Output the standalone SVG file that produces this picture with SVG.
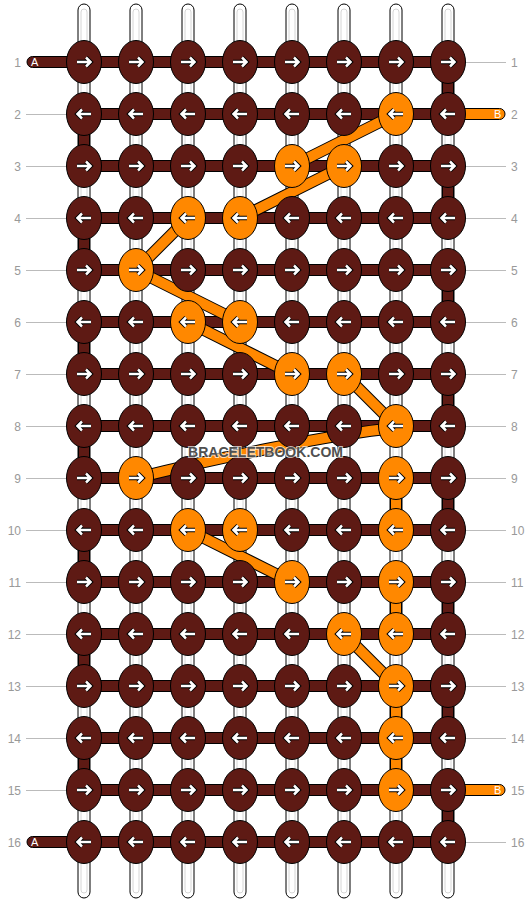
<svg xmlns="http://www.w3.org/2000/svg" xmlns:xlink="http://www.w3.org/1999/xlink" width="532" height="904" viewBox="0 0 532 904">
<style>
.st{fill:#fff;stroke:#000;stroke-width:1}
.sti{fill:none;stroke:#d6d6d6;stroke-width:1}
.bar{fill:#5e1a14;stroke:#000;stroke-width:1}
.obar{fill:#ff8800;stroke:#000;stroke-width:1}
.b{fill:#5e1a14;stroke:#000;stroke-width:1}
.o{fill:#ff8800;stroke:#000;stroke-width:1}
.dg0{fill:none;stroke:#000;stroke-width:12}
.dg1{fill:none;stroke:#ff8800;stroke-width:10}
.ao{fill:none;stroke:#000;stroke-width:4.5}
.ai{fill:none;stroke:#fff;stroke-width:2.5}
.num{font-family:"Liberation Sans",Arial,sans-serif;font-size:12px;fill:#999}
.end{font-family:"Liberation Sans",Arial,sans-serif;font-size:11px;fill:#fff}
.gl{stroke:#bbb;stroke-width:1}
.wm{font-family:"Liberation Sans",Arial,sans-serif;font-size:15px;font-weight:bold;fill:#505050;stroke:#fff;stroke-width:2;stroke-opacity:0.7;paint-order:stroke}
</style>
<defs>
<g id="R"><path class="ao" d="M-7,0H6.5M2,-4.5L6.5,0L2,4.5"/><path class="ai" d="M-7,0H6.5M2,-4.5L6.5,0L2,4.5"/></g>
<g id="L"><path class="ao" d="M7,0H-6.5M-2,-4.5L-6.5,0L-2,4.5"/><path class="ai" d="M7,0H-6.5M-2,-4.5L-6.5,0L-2,4.5"/></g>
</defs>
<rect width="532" height="904" fill="#fff"/>
<g id="strands">
<rect class="st" x="78" y="4" width="12" height="894" rx="6"/><rect class="sti" x="81" y="9" width="6" height="884" rx="3"/>
<rect class="st" x="130" y="4" width="12" height="894" rx="6"/><rect class="sti" x="133" y="9" width="6" height="884" rx="3"/>
<rect class="st" x="182" y="4" width="12" height="894" rx="6"/><rect class="sti" x="185" y="9" width="6" height="884" rx="3"/>
<rect class="st" x="234" y="4" width="12" height="894" rx="6"/><rect class="sti" x="237" y="9" width="6" height="884" rx="3"/>
<rect class="st" x="286" y="4" width="12" height="894" rx="6"/><rect class="sti" x="289" y="9" width="6" height="884" rx="3"/>
<rect class="st" x="338" y="4" width="12" height="894" rx="6"/><rect class="sti" x="341" y="9" width="6" height="884" rx="3"/>
<rect class="st" x="390" y="4" width="12" height="894" rx="6"/><rect class="sti" x="393" y="9" width="6" height="884" rx="3"/>
<rect class="st" x="442" y="4" width="12" height="894" rx="6"/><rect class="sti" x="445" y="9" width="6" height="884" rx="3"/>
</g>
<g id="labels">
<g class="num" text-anchor="end">
<text x="21" y="66.5">1</text><text x="21" y="118.5">2</text><text x="21" y="170.5">3</text><text x="21" y="222.5">4</text>
<text x="21" y="274.5">5</text><text x="21" y="326.5">6</text><text x="21" y="378.5">7</text><text x="21" y="430.5">8</text>
<text x="21" y="482.5">9</text><text x="21" y="534.5">10</text><text x="21" y="586.5">11</text><text x="21" y="638.5">12</text>
<text x="21" y="690.5">13</text><text x="21" y="742.5">14</text><text x="21" y="794.5">15</text><text x="21" y="846.5">16</text>
</g>
<g class="num">
<text x="511" y="66.5">1</text><text x="511" y="118.5">2</text><text x="511" y="170.5">3</text><text x="511" y="222.5">4</text>
<text x="511" y="274.5">5</text><text x="511" y="326.5">6</text><text x="511" y="378.5">7</text><text x="511" y="430.5">8</text>
<text x="511" y="482.5">9</text><text x="511" y="534.5">10</text><text x="511" y="586.5">11</text><text x="511" y="638.5">12</text>
<text x="511" y="690.5">13</text><text x="511" y="742.5">14</text><text x="511" y="794.5">15</text><text x="511" y="846.5">16</text>
</g>
<g class="gl">
<line x1="26" y1="114.5" x2="66" y2="114.5"/><line x1="26" y1="166.5" x2="66" y2="166.5"/><line x1="26" y1="218.5" x2="66" y2="218.5"/>
<line x1="26" y1="270.5" x2="66" y2="270.5"/><line x1="26" y1="322.5" x2="66" y2="322.5"/><line x1="26" y1="374.5" x2="66" y2="374.5"/>
<line x1="26" y1="426.5" x2="66" y2="426.5"/><line x1="26" y1="478.5" x2="66" y2="478.5"/><line x1="26" y1="530.5" x2="66" y2="530.5"/>
<line x1="26" y1="582.5" x2="66" y2="582.5"/><line x1="26" y1="634.5" x2="66" y2="634.5"/><line x1="26" y1="686.5" x2="66" y2="686.5"/>
<line x1="26" y1="738.5" x2="66" y2="738.5"/><line x1="26" y1="790.5" x2="66" y2="790.5"/>
<line x1="466" y1="62.5" x2="506" y2="62.5"/><line x1="466" y1="166.5" x2="506" y2="166.5"/><line x1="466" y1="218.5" x2="506" y2="218.5"/>
<line x1="466" y1="270.5" x2="506" y2="270.5"/><line x1="466" y1="322.5" x2="506" y2="322.5"/><line x1="466" y1="374.5" x2="506" y2="374.5"/>
<line x1="466" y1="426.5" x2="506" y2="426.5"/><line x1="466" y1="478.5" x2="506" y2="478.5"/><line x1="466" y1="530.5" x2="506" y2="530.5"/>
<line x1="466" y1="582.5" x2="506" y2="582.5"/><line x1="466" y1="634.5" x2="506" y2="634.5"/><line x1="466" y1="686.5" x2="506" y2="686.5"/>
<line x1="466" y1="738.5" x2="506" y2="738.5"/><line x1="466" y1="842.5" x2="506" y2="842.5"/>
</g>
</g>
<g id="connectors">
<g id="rows">
<rect class="bar" x="84" y="56.5" width="364" height="11"/><rect class="bar" x="84" y="108.5" width="364" height="11"/>
<rect class="bar" x="84" y="160.5" width="364" height="11"/><rect class="bar" x="84" y="212.5" width="364" height="11"/>
<rect class="bar" x="84" y="264.5" width="364" height="11"/><rect class="bar" x="84" y="316.5" width="364" height="11"/>
<rect class="bar" x="84" y="368.5" width="364" height="11"/><rect class="bar" x="84" y="420.5" width="364" height="11"/>
<rect class="bar" x="84" y="472.5" width="364" height="11"/><rect class="bar" x="84" y="524.5" width="364" height="11"/>
<rect class="bar" x="84" y="576.5" width="364" height="11"/><rect class="bar" x="84" y="628.5" width="364" height="11"/>
<rect class="bar" x="84" y="680.5" width="364" height="11"/><rect class="bar" x="84" y="732.5" width="364" height="11"/>
<rect class="bar" x="84" y="784.5" width="364" height="11"/><rect class="bar" x="84" y="836.5" width="364" height="11"/>
<path class="bar" d="M84,56.5H32.5A5.5,5.5 0 0 0 32.5,67.5H84Z"/>
<path class="bar" d="M84,836.5H32.5A5.5,5.5 0 0 0 32.5,847.5H84Z"/>
<path class="obar" d="M448,108.5H499.5A5.5,5.5 0 0 1 499.5,119.5H448Z"/>
<path class="obar" d="M448,784.5H499.5A5.5,5.5 0 0 1 499.5,795.5H448Z"/>
</g>
<g id="turns">
<rect class="bar" x="442.5" y="62" width="11" height="52"/><rect class="bar" x="442.5" y="166" width="11" height="52"/>
<rect class="bar" x="442.5" y="270" width="11" height="52"/><rect class="bar" x="442.5" y="374" width="11" height="52"/>
<rect class="bar" x="442.5" y="478" width="11" height="52"/><rect class="bar" x="442.5" y="582" width="11" height="52"/>
<rect class="bar" x="442.5" y="686" width="11" height="52"/><rect class="bar" x="442.5" y="790" width="11" height="52"/>
<rect class="bar" x="78.5" y="114" width="11" height="52"/><rect class="bar" x="78.5" y="218" width="11" height="52"/>
<rect class="bar" x="78.5" y="322" width="11" height="52"/><rect class="bar" x="78.5" y="426" width="11" height="52"/>
<rect class="bar" x="78.5" y="530" width="11" height="52"/><rect class="bar" x="78.5" y="634" width="11" height="52"/>
<rect class="bar" x="78.5" y="738" width="11" height="52"/>
<rect class="obar" x="390.5" y="478" width="11" height="52"/><rect class="obar" x="390.5" y="582" width="11" height="52"/>
<rect class="obar" x="390.5" y="686" width="11" height="52"/><rect class="obar" x="390.5" y="738" width="11" height="52"/>
</g>
<g id="diagonals">
<path class="dg0" d="M396,114L292,166"/><path class="dg1" d="M396,114L292,166"/>
<path class="dg0" d="M344,166L240,218"/><path class="dg1" d="M344,166L240,218"/>
<path class="dg0" d="M188,218L136,270"/><path class="dg1" d="M188,218L136,270"/>
<path class="dg0" d="M136,270L240,322"/><path class="dg1" d="M136,270L240,322"/>
<path class="dg0" d="M188,322L292,374"/><path class="dg1" d="M188,322L292,374"/>
<path class="dg0" d="M344,374L396,426"/><path class="dg1" d="M344,374L396,426"/>
<path class="dg0" d="M396,428C330,434 200,462 136,478"/><path class="dg1" d="M396,428C330,434 200,462 136,478"/>
<path class="dg0" d="M188,530L292,582"/><path class="dg1" d="M188,530L292,582"/>
<path class="dg0" d="M344,634L396,686"/><path class="dg1" d="M344,634L396,686"/>
</g>
</g>
<g id="ends">
<text class="end" x="31" y="66">A</text>
<text class="end" x="31" y="846">A</text>
<text class="end" x="494" y="118">B</text>
<text class="end" x="494" y="794">B</text>
</g>
<g id="knots">
<g id="k1-1"><ellipse class="b" cx="84" cy="62" rx="17.5" ry="21.5"/><use xlink:href="#R" x="84" y="62"/></g>
<g id="k1-2"><ellipse class="b" cx="136" cy="62" rx="17.5" ry="21.5"/><use xlink:href="#R" x="136" y="62"/></g>
<g id="k1-3"><ellipse class="b" cx="188" cy="62" rx="17.5" ry="21.5"/><use xlink:href="#R" x="188" y="62"/></g>
<g id="k1-4"><ellipse class="b" cx="240" cy="62" rx="17.5" ry="21.5"/><use xlink:href="#R" x="240" y="62"/></g>
<g id="k1-5"><ellipse class="b" cx="292" cy="62" rx="17.5" ry="21.5"/><use xlink:href="#R" x="292" y="62"/></g>
<g id="k1-6"><ellipse class="b" cx="344" cy="62" rx="17.5" ry="21.5"/><use xlink:href="#R" x="344" y="62"/></g>
<g id="k1-7"><ellipse class="b" cx="396" cy="62" rx="17.5" ry="21.5"/><use xlink:href="#R" x="396" y="62"/></g>
<g id="k1-8"><ellipse class="b" cx="448" cy="62" rx="17.5" ry="21.5"/><use xlink:href="#R" x="448" y="62"/></g>
<g id="k2-1"><ellipse class="b" cx="84" cy="114" rx="17.5" ry="21.5"/><use xlink:href="#L" x="84" y="114"/></g>
<g id="k2-2"><ellipse class="b" cx="136" cy="114" rx="17.5" ry="21.5"/><use xlink:href="#L" x="136" y="114"/></g>
<g id="k2-3"><ellipse class="b" cx="188" cy="114" rx="17.5" ry="21.5"/><use xlink:href="#L" x="188" y="114"/></g>
<g id="k2-4"><ellipse class="b" cx="240" cy="114" rx="17.5" ry="21.5"/><use xlink:href="#L" x="240" y="114"/></g>
<g id="k2-5"><ellipse class="b" cx="292" cy="114" rx="17.5" ry="21.5"/><use xlink:href="#L" x="292" y="114"/></g>
<g id="k2-6"><ellipse class="b" cx="344" cy="114" rx="17.5" ry="21.5"/><use xlink:href="#L" x="344" y="114"/></g>
<g id="k2-7"><ellipse class="o" cx="396" cy="114" rx="17.5" ry="21.5"/><use xlink:href="#L" x="396" y="114"/></g>
<g id="k2-8"><ellipse class="b" cx="448" cy="114" rx="17.5" ry="21.5"/><use xlink:href="#L" x="448" y="114"/></g>
<g id="k3-1"><ellipse class="b" cx="84" cy="166" rx="17.5" ry="21.5"/><use xlink:href="#R" x="84" y="166"/></g>
<g id="k3-2"><ellipse class="b" cx="136" cy="166" rx="17.5" ry="21.5"/><use xlink:href="#R" x="136" y="166"/></g>
<g id="k3-3"><ellipse class="b" cx="188" cy="166" rx="17.5" ry="21.5"/><use xlink:href="#R" x="188" y="166"/></g>
<g id="k3-4"><ellipse class="b" cx="240" cy="166" rx="17.5" ry="21.5"/><use xlink:href="#R" x="240" y="166"/></g>
<g id="k3-5"><ellipse class="o" cx="292" cy="166" rx="17.5" ry="21.5"/><use xlink:href="#R" x="292" y="166"/></g>
<g id="k3-6"><ellipse class="o" cx="344" cy="166" rx="17.5" ry="21.5"/><use xlink:href="#R" x="344" y="166"/></g>
<g id="k3-7"><ellipse class="b" cx="396" cy="166" rx="17.5" ry="21.5"/><use xlink:href="#R" x="396" y="166"/></g>
<g id="k3-8"><ellipse class="b" cx="448" cy="166" rx="17.5" ry="21.5"/><use xlink:href="#R" x="448" y="166"/></g>
<g id="k4-1"><ellipse class="b" cx="84" cy="218" rx="17.5" ry="21.5"/><use xlink:href="#L" x="84" y="218"/></g>
<g id="k4-2"><ellipse class="b" cx="136" cy="218" rx="17.5" ry="21.5"/><use xlink:href="#L" x="136" y="218"/></g>
<g id="k4-3"><ellipse class="o" cx="188" cy="218" rx="17.5" ry="21.5"/><use xlink:href="#L" x="188" y="218"/></g>
<g id="k4-4"><ellipse class="o" cx="240" cy="218" rx="17.5" ry="21.5"/><use xlink:href="#L" x="240" y="218"/></g>
<g id="k4-5"><ellipse class="b" cx="292" cy="218" rx="17.5" ry="21.5"/><use xlink:href="#L" x="292" y="218"/></g>
<g id="k4-6"><ellipse class="b" cx="344" cy="218" rx="17.5" ry="21.5"/><use xlink:href="#L" x="344" y="218"/></g>
<g id="k4-7"><ellipse class="b" cx="396" cy="218" rx="17.5" ry="21.5"/><use xlink:href="#L" x="396" y="218"/></g>
<g id="k4-8"><ellipse class="b" cx="448" cy="218" rx="17.5" ry="21.5"/><use xlink:href="#L" x="448" y="218"/></g>
<g id="k5-1"><ellipse class="b" cx="84" cy="270" rx="17.5" ry="21.5"/><use xlink:href="#R" x="84" y="270"/></g>
<g id="k5-2"><ellipse class="o" cx="136" cy="270" rx="17.5" ry="21.5"/><use xlink:href="#R" x="136" y="270"/></g>
<g id="k5-3"><ellipse class="b" cx="188" cy="270" rx="17.5" ry="21.5"/><use xlink:href="#R" x="188" y="270"/></g>
<g id="k5-4"><ellipse class="b" cx="240" cy="270" rx="17.5" ry="21.5"/><use xlink:href="#R" x="240" y="270"/></g>
<g id="k5-5"><ellipse class="b" cx="292" cy="270" rx="17.5" ry="21.5"/><use xlink:href="#R" x="292" y="270"/></g>
<g id="k5-6"><ellipse class="b" cx="344" cy="270" rx="17.5" ry="21.5"/><use xlink:href="#R" x="344" y="270"/></g>
<g id="k5-7"><ellipse class="b" cx="396" cy="270" rx="17.5" ry="21.5"/><use xlink:href="#R" x="396" y="270"/></g>
<g id="k5-8"><ellipse class="b" cx="448" cy="270" rx="17.5" ry="21.5"/><use xlink:href="#R" x="448" y="270"/></g>
<g id="k6-1"><ellipse class="b" cx="84" cy="322" rx="17.5" ry="21.5"/><use xlink:href="#L" x="84" y="322"/></g>
<g id="k6-2"><ellipse class="b" cx="136" cy="322" rx="17.5" ry="21.5"/><use xlink:href="#L" x="136" y="322"/></g>
<g id="k6-3"><ellipse class="o" cx="188" cy="322" rx="17.5" ry="21.5"/><use xlink:href="#L" x="188" y="322"/></g>
<g id="k6-4"><ellipse class="o" cx="240" cy="322" rx="17.5" ry="21.5"/><use xlink:href="#L" x="240" y="322"/></g>
<g id="k6-5"><ellipse class="b" cx="292" cy="322" rx="17.5" ry="21.5"/><use xlink:href="#L" x="292" y="322"/></g>
<g id="k6-6"><ellipse class="b" cx="344" cy="322" rx="17.5" ry="21.5"/><use xlink:href="#L" x="344" y="322"/></g>
<g id="k6-7"><ellipse class="b" cx="396" cy="322" rx="17.5" ry="21.5"/><use xlink:href="#L" x="396" y="322"/></g>
<g id="k6-8"><ellipse class="b" cx="448" cy="322" rx="17.5" ry="21.5"/><use xlink:href="#L" x="448" y="322"/></g>
<g id="k7-1"><ellipse class="b" cx="84" cy="374" rx="17.5" ry="21.5"/><use xlink:href="#R" x="84" y="374"/></g>
<g id="k7-2"><ellipse class="b" cx="136" cy="374" rx="17.5" ry="21.5"/><use xlink:href="#R" x="136" y="374"/></g>
<g id="k7-3"><ellipse class="b" cx="188" cy="374" rx="17.5" ry="21.5"/><use xlink:href="#R" x="188" y="374"/></g>
<g id="k7-4"><ellipse class="b" cx="240" cy="374" rx="17.5" ry="21.5"/><use xlink:href="#R" x="240" y="374"/></g>
<g id="k7-5"><ellipse class="o" cx="292" cy="374" rx="17.5" ry="21.5"/><use xlink:href="#R" x="292" y="374"/></g>
<g id="k7-6"><ellipse class="o" cx="344" cy="374" rx="17.5" ry="21.5"/><use xlink:href="#R" x="344" y="374"/></g>
<g id="k7-7"><ellipse class="b" cx="396" cy="374" rx="17.5" ry="21.5"/><use xlink:href="#R" x="396" y="374"/></g>
<g id="k7-8"><ellipse class="b" cx="448" cy="374" rx="17.5" ry="21.5"/><use xlink:href="#R" x="448" y="374"/></g>
<g id="k8-1"><ellipse class="b" cx="84" cy="426" rx="17.5" ry="21.5"/><use xlink:href="#L" x="84" y="426"/></g>
<g id="k8-2"><ellipse class="b" cx="136" cy="426" rx="17.5" ry="21.5"/><use xlink:href="#L" x="136" y="426"/></g>
<g id="k8-3"><ellipse class="b" cx="188" cy="426" rx="17.5" ry="21.5"/><use xlink:href="#L" x="188" y="426"/></g>
<g id="k8-4"><ellipse class="b" cx="240" cy="426" rx="17.5" ry="21.5"/><use xlink:href="#L" x="240" y="426"/></g>
<g id="k8-5"><ellipse class="b" cx="292" cy="426" rx="17.5" ry="21.5"/><use xlink:href="#L" x="292" y="426"/></g>
<g id="k8-6"><ellipse class="b" cx="344" cy="426" rx="17.5" ry="21.5"/><use xlink:href="#L" x="344" y="426"/></g>
<g id="k8-7"><ellipse class="o" cx="396" cy="426" rx="17.5" ry="21.5"/><use xlink:href="#L" x="396" y="426"/></g>
<g id="k8-8"><ellipse class="b" cx="448" cy="426" rx="17.5" ry="21.5"/><use xlink:href="#L" x="448" y="426"/></g>
<g id="k9-1"><ellipse class="b" cx="84" cy="478" rx="17.5" ry="21.5"/><use xlink:href="#R" x="84" y="478"/></g>
<g id="k9-2"><ellipse class="o" cx="136" cy="478" rx="17.5" ry="21.5"/><use xlink:href="#R" x="136" y="478"/></g>
<g id="k9-3"><ellipse class="b" cx="188" cy="478" rx="17.5" ry="21.5"/><use xlink:href="#R" x="188" y="478"/></g>
<g id="k9-4"><ellipse class="b" cx="240" cy="478" rx="17.5" ry="21.5"/><use xlink:href="#R" x="240" y="478"/></g>
<g id="k9-5"><ellipse class="b" cx="292" cy="478" rx="17.5" ry="21.5"/><use xlink:href="#R" x="292" y="478"/></g>
<g id="k9-6"><ellipse class="b" cx="344" cy="478" rx="17.5" ry="21.5"/><use xlink:href="#R" x="344" y="478"/></g>
<g id="k9-7"><ellipse class="o" cx="396" cy="478" rx="17.5" ry="21.5"/><use xlink:href="#R" x="396" y="478"/></g>
<g id="k9-8"><ellipse class="b" cx="448" cy="478" rx="17.5" ry="21.5"/><use xlink:href="#R" x="448" y="478"/></g>
<g id="k10-1"><ellipse class="b" cx="84" cy="530" rx="17.5" ry="21.5"/><use xlink:href="#L" x="84" y="530"/></g>
<g id="k10-2"><ellipse class="b" cx="136" cy="530" rx="17.5" ry="21.5"/><use xlink:href="#L" x="136" y="530"/></g>
<g id="k10-3"><ellipse class="o" cx="188" cy="530" rx="17.5" ry="21.5"/><use xlink:href="#L" x="188" y="530"/></g>
<g id="k10-4"><ellipse class="o" cx="240" cy="530" rx="17.5" ry="21.5"/><use xlink:href="#L" x="240" y="530"/></g>
<g id="k10-5"><ellipse class="b" cx="292" cy="530" rx="17.5" ry="21.5"/><use xlink:href="#L" x="292" y="530"/></g>
<g id="k10-6"><ellipse class="b" cx="344" cy="530" rx="17.5" ry="21.5"/><use xlink:href="#L" x="344" y="530"/></g>
<g id="k10-7"><ellipse class="o" cx="396" cy="530" rx="17.5" ry="21.5"/><use xlink:href="#L" x="396" y="530"/></g>
<g id="k10-8"><ellipse class="b" cx="448" cy="530" rx="17.5" ry="21.5"/><use xlink:href="#L" x="448" y="530"/></g>
<g id="k11-1"><ellipse class="b" cx="84" cy="582" rx="17.5" ry="21.5"/><use xlink:href="#R" x="84" y="582"/></g>
<g id="k11-2"><ellipse class="b" cx="136" cy="582" rx="17.5" ry="21.5"/><use xlink:href="#R" x="136" y="582"/></g>
<g id="k11-3"><ellipse class="b" cx="188" cy="582" rx="17.5" ry="21.5"/><use xlink:href="#R" x="188" y="582"/></g>
<g id="k11-4"><ellipse class="b" cx="240" cy="582" rx="17.5" ry="21.5"/><use xlink:href="#R" x="240" y="582"/></g>
<g id="k11-5"><ellipse class="o" cx="292" cy="582" rx="17.5" ry="21.5"/><use xlink:href="#R" x="292" y="582"/></g>
<g id="k11-6"><ellipse class="b" cx="344" cy="582" rx="17.5" ry="21.5"/><use xlink:href="#R" x="344" y="582"/></g>
<g id="k11-7"><ellipse class="o" cx="396" cy="582" rx="17.5" ry="21.5"/><use xlink:href="#R" x="396" y="582"/></g>
<g id="k11-8"><ellipse class="b" cx="448" cy="582" rx="17.5" ry="21.5"/><use xlink:href="#R" x="448" y="582"/></g>
<g id="k12-1"><ellipse class="b" cx="84" cy="634" rx="17.5" ry="21.5"/><use xlink:href="#L" x="84" y="634"/></g>
<g id="k12-2"><ellipse class="b" cx="136" cy="634" rx="17.5" ry="21.5"/><use xlink:href="#L" x="136" y="634"/></g>
<g id="k12-3"><ellipse class="b" cx="188" cy="634" rx="17.5" ry="21.5"/><use xlink:href="#L" x="188" y="634"/></g>
<g id="k12-4"><ellipse class="b" cx="240" cy="634" rx="17.5" ry="21.5"/><use xlink:href="#L" x="240" y="634"/></g>
<g id="k12-5"><ellipse class="b" cx="292" cy="634" rx="17.5" ry="21.5"/><use xlink:href="#L" x="292" y="634"/></g>
<g id="k12-6"><ellipse class="o" cx="344" cy="634" rx="17.5" ry="21.5"/><use xlink:href="#L" x="344" y="634"/></g>
<g id="k12-7"><ellipse class="o" cx="396" cy="634" rx="17.5" ry="21.5"/><use xlink:href="#L" x="396" y="634"/></g>
<g id="k12-8"><ellipse class="b" cx="448" cy="634" rx="17.5" ry="21.5"/><use xlink:href="#L" x="448" y="634"/></g>
<g id="k13-1"><ellipse class="b" cx="84" cy="686" rx="17.5" ry="21.5"/><use xlink:href="#R" x="84" y="686"/></g>
<g id="k13-2"><ellipse class="b" cx="136" cy="686" rx="17.5" ry="21.5"/><use xlink:href="#R" x="136" y="686"/></g>
<g id="k13-3"><ellipse class="b" cx="188" cy="686" rx="17.5" ry="21.5"/><use xlink:href="#R" x="188" y="686"/></g>
<g id="k13-4"><ellipse class="b" cx="240" cy="686" rx="17.5" ry="21.5"/><use xlink:href="#R" x="240" y="686"/></g>
<g id="k13-5"><ellipse class="b" cx="292" cy="686" rx="17.5" ry="21.5"/><use xlink:href="#R" x="292" y="686"/></g>
<g id="k13-6"><ellipse class="b" cx="344" cy="686" rx="17.5" ry="21.5"/><use xlink:href="#R" x="344" y="686"/></g>
<g id="k13-7"><ellipse class="o" cx="396" cy="686" rx="17.5" ry="21.5"/><use xlink:href="#R" x="396" y="686"/></g>
<g id="k13-8"><ellipse class="b" cx="448" cy="686" rx="17.5" ry="21.5"/><use xlink:href="#R" x="448" y="686"/></g>
<g id="k14-1"><ellipse class="b" cx="84" cy="738" rx="17.5" ry="21.5"/><use xlink:href="#L" x="84" y="738"/></g>
<g id="k14-2"><ellipse class="b" cx="136" cy="738" rx="17.5" ry="21.5"/><use xlink:href="#L" x="136" y="738"/></g>
<g id="k14-3"><ellipse class="b" cx="188" cy="738" rx="17.5" ry="21.5"/><use xlink:href="#L" x="188" y="738"/></g>
<g id="k14-4"><ellipse class="b" cx="240" cy="738" rx="17.5" ry="21.5"/><use xlink:href="#L" x="240" y="738"/></g>
<g id="k14-5"><ellipse class="b" cx="292" cy="738" rx="17.5" ry="21.5"/><use xlink:href="#L" x="292" y="738"/></g>
<g id="k14-6"><ellipse class="b" cx="344" cy="738" rx="17.5" ry="21.5"/><use xlink:href="#L" x="344" y="738"/></g>
<g id="k14-7"><ellipse class="o" cx="396" cy="738" rx="17.5" ry="21.5"/><use xlink:href="#L" x="396" y="738"/></g>
<g id="k14-8"><ellipse class="b" cx="448" cy="738" rx="17.5" ry="21.5"/><use xlink:href="#L" x="448" y="738"/></g>
<g id="k15-1"><ellipse class="b" cx="84" cy="790" rx="17.5" ry="21.5"/><use xlink:href="#R" x="84" y="790"/></g>
<g id="k15-2"><ellipse class="b" cx="136" cy="790" rx="17.5" ry="21.5"/><use xlink:href="#R" x="136" y="790"/></g>
<g id="k15-3"><ellipse class="b" cx="188" cy="790" rx="17.5" ry="21.5"/><use xlink:href="#R" x="188" y="790"/></g>
<g id="k15-4"><ellipse class="b" cx="240" cy="790" rx="17.5" ry="21.5"/><use xlink:href="#R" x="240" y="790"/></g>
<g id="k15-5"><ellipse class="b" cx="292" cy="790" rx="17.5" ry="21.5"/><use xlink:href="#R" x="292" y="790"/></g>
<g id="k15-6"><ellipse class="b" cx="344" cy="790" rx="17.5" ry="21.5"/><use xlink:href="#R" x="344" y="790"/></g>
<g id="k15-7"><ellipse class="o" cx="396" cy="790" rx="17.5" ry="21.5"/><use xlink:href="#R" x="396" y="790"/></g>
<g id="k15-8"><ellipse class="b" cx="448" cy="790" rx="17.5" ry="21.5"/><use xlink:href="#R" x="448" y="790"/></g>
<g id="k16-1"><ellipse class="b" cx="84" cy="842" rx="17.5" ry="21.5"/><use xlink:href="#L" x="84" y="842"/></g>
<g id="k16-2"><ellipse class="b" cx="136" cy="842" rx="17.5" ry="21.5"/><use xlink:href="#L" x="136" y="842"/></g>
<g id="k16-3"><ellipse class="b" cx="188" cy="842" rx="17.5" ry="21.5"/><use xlink:href="#L" x="188" y="842"/></g>
<g id="k16-4"><ellipse class="b" cx="240" cy="842" rx="17.5" ry="21.5"/><use xlink:href="#L" x="240" y="842"/></g>
<g id="k16-5"><ellipse class="b" cx="292" cy="842" rx="17.5" ry="21.5"/><use xlink:href="#L" x="292" y="842"/></g>
<g id="k16-6"><ellipse class="b" cx="344" cy="842" rx="17.5" ry="21.5"/><use xlink:href="#L" x="344" y="842"/></g>
<g id="k16-7"><ellipse class="b" cx="396" cy="842" rx="17.5" ry="21.5"/><use xlink:href="#L" x="396" y="842"/></g>
<g id="k16-8"><ellipse class="b" cx="448" cy="842" rx="17.5" ry="21.5"/><use xlink:href="#L" x="448" y="842"/></g>
</g>
<text class="wm" x="265.5" y="457" text-anchor="middle" textLength="155" lengthAdjust="spacingAndGlyphs">BRACELETBOOK.COM</text>
</svg>
